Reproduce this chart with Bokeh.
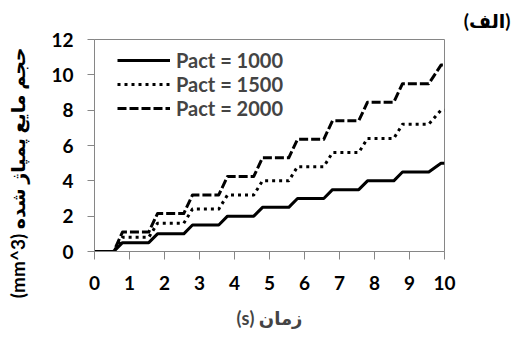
from bokeh.plotting import figure
from bokeh.models import Range1d, FixedTicker, Legend, LegendItem, Title
from bokeh.embed import file_html
from bokeh.resources import INLINE

# ---- data ----
time_s = [0, 0.55, 0.8, 1.55, 1.8, 2.55, 2.8, 3.55, 3.8, 4.55, 4.8,
          5.55, 5.8, 6.55, 6.8, 7.55, 7.8, 8.55, 8.8, 9.55, 9.9, 10]
pact_1000 = [0, 0, 0.5, 0.5, 1.0, 1.0, 1.5, 1.5, 2.0, 2.0, 2.5,
             2.5, 3.0, 3.0, 3.5, 3.5, 4.0, 4.0, 4.5, 4.5, 5.0, 5.0]
pact_1500 = [0, 0, 0.8, 0.8, 1.6, 1.6, 2.4, 2.4, 3.2, 3.2, 4.0,
             4.0, 4.8, 4.8, 5.6, 5.6, 6.4, 6.4, 7.2, 7.2, 8.0, 8.0]
pact_2000 = [0, 0, 1.1, 1.1, 2.15, 2.15, 3.2, 3.2, 4.25, 4.25, 5.3,
             5.3, 6.35, 6.35, 7.4, 7.4, 8.45, 8.45, 9.5, 9.5, 10.55, 10.55]
series_labels = ["Pact = 1000", "Pact = 1500", "Pact = 2000"]
x_ticks = [0, 1, 2, 3, 4, 5, 6, 7, 8, 9, 10]
y_ticks = [0, 2, 4, 6, 8, 10, 12]
x_title = "زمان (s)"
y_title = "حجم مایع پمپاژ شده (mm^3)"
panel_title = "(الف)"

RLE, PDF = "\u202b", "\u202c"   # right-to-left embedding for Persian labels
FONT = "Lato, DejaVu Sans"
AXIS_GREY = "#868686"

p = figure(width=512, height=340, output_backend="svg", toolbar_location=None,
           x_range=Range1d(0, 10), y_range=Range1d(0, 12),
           min_border_left=94, min_border_right=68,
           min_border_top=39, min_border_bottom=89)

r1 = p.line(time_s, pact_1000, line_color="black", line_width=3, line_join="round")
r2 = p.line(time_s, pact_1500, line_color="black", line_width=3, line_dash="3 4", line_join="round")
r3 = p.line(time_s, pact_2000, line_color="black", line_width=3, line_dash="9 3", line_join="round")

legend = Legend(items=[LegendItem(label=series_labels[0], renderers=[r1]),
                       LegendItem(label=series_labels[1], renderers=[r2]),
                       LegendItem(label=series_labels[2], renderers=[r3])],
                location=(23, 131))
legend.label_text_font = FONT
legend.label_text_font_style = "bold"
legend.label_text_font_size = "20px"
legend.glyph_width = 53
legend.glyph_height = 24
legend.label_height = 24
legend.spacing = 0
legend.padding = 0
legend.margin = 0
legend.label_standoff = 6
legend.border_line_color = None
legend.background_fill_alpha = 0
p.add_layout(legend, "center")

p.grid.visible = False
p.outline_line_color = AXIS_GREY
p.outline_line_width = 1

for ax in (p.xaxis[0], p.yaxis[0]):
    ax.axis_line_color = AXIS_GREY
    ax.major_tick_line_color = AXIS_GREY
    ax.minor_tick_line_color = None
    ax.major_tick_in = 0
    ax.major_label_text_font = FONT
    ax.major_label_text_font_style = "bold"
    ax.major_label_text_font_size = "19px"
    ax.major_label_text_color = "black"

p.xaxis.ticker = FixedTicker(ticks=x_ticks)
p.yaxis.ticker = FixedTicker(ticks=y_ticks)
p.xaxis.major_tick_out = 8
p.yaxis.major_tick_out = 7
p.xaxis.major_label_standoff = 16
p.yaxis.major_label_standoff = 14

p.xaxis.axis_label = RLE + x_title + PDF
p.xaxis.axis_label_text_font = FONT
p.xaxis.axis_label_text_font_style = "bold"
p.xaxis.axis_label_text_font_size = "18px"
p.xaxis.axis_label_standoff = 14

# second (blank) line pushes the rotated title away from the axis
ytitle = Title(text=RLE + y_title + PDF + "\n\u00a0", align="right", offset=8, standoff=-6,
               text_font=FONT, text_font_style="bold", text_font_size="19px",
               text_color="black")
p.add_layout(ytitle, "left")

ptitle = Title(text=panel_title, align="right", offset=-66, standoff=12,
               vertical_align="top",
               text_font=FONT, text_font_style="bold", text_font_size="19px",
               text_color="black")
p.add_layout(ptitle, "above")

open("out.html", "w").write(file_html(p, INLINE))
